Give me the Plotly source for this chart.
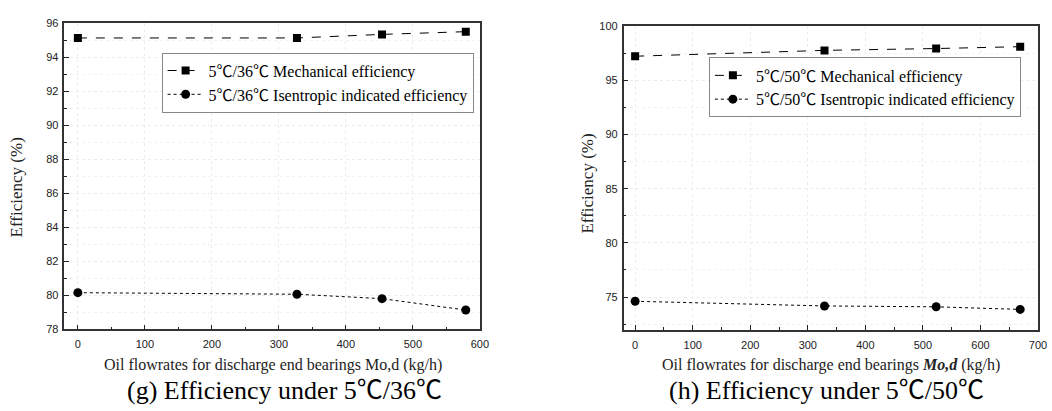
import plotly.graph_objects as go

# Data: panel (g) 5℃/36℃
g_x = [0, 327, 454, 579]
g_mech = [95.12, 95.12, 95.33, 95.49]
g_isen = [80.15, 80.06, 79.8, 79.13]

# Data: panel (h) 5℃/50℃
h_x = [0, 329, 523, 669]
h_mech = [97.22, 97.76, 97.93, 98.1]
h_isen = [74.61, 74.18, 74.1, 73.86]

g_names = ["5℃/36℃ Mechanical efficiency", "5℃/36℃ Isentropic indicated efficiency"]
h_names = ["5℃/50℃ Mechanical efficiency", "5℃/50℃ Isentropic indicated efficiency"]

serif = "Liberation Serif, Times New Roman, Noto Sans CJK SC, serif"
sans = "Liberation Sans, Arial, sans-serif"

W, H = 1052, 411
def px(x):
    return x / W
def py(y):
    return 1 - y / H

fig = go.Figure()

line_c = "black"
fig.add_trace(go.Scatter(x=g_x, y=g_mech, mode="lines+markers", name=g_names[0],
                         line=dict(color=line_c, width=1, dash="dash"),
                         marker=dict(symbol="square", size=8, color=line_c),
                         xaxis="x", yaxis="y", legend="legend"))
fig.add_trace(go.Scatter(x=g_x, y=g_isen, mode="lines+markers", name=g_names[1],
                         line=dict(color=line_c, width=1, dash="dot"),
                         marker=dict(symbol="circle", size=9, color=line_c),
                         xaxis="x", yaxis="y", legend="legend"))
fig.add_trace(go.Scatter(x=h_x, y=h_mech, mode="lines+markers", name=h_names[0],
                         line=dict(color=line_c, width=1, dash="dash"),
                         marker=dict(symbol="square", size=8, color=line_c),
                         xaxis="x2", yaxis="y2", legend="legend2"))
fig.add_trace(go.Scatter(x=h_x, y=h_isen, mode="lines+markers", name=h_names[1],
                         line=dict(color=line_c, width=1, dash="dot"),
                         marker=dict(symbol="circle", size=9, color=line_c),
                         xaxis="x2", yaxis="y2", legend="legend2"))

def xaxis_cfg(domain, rng, anchor):
    return dict(domain=domain, range=rng, anchor=anchor, dtick=100, tick0=0,
                ticks="inside", ticklen=5, tickwidth=1, tickcolor="#222",
                ticklabelstandoff=4,
                minor=dict(dtick=50, ticks="inside", ticklen=3, tickcolor="#222",
                           showgrid=False),
                showline=True, linecolor="#333", linewidth=1.5, mirror=True,
                showgrid=True, gridcolor="#ececec", griddash="dot", gridwidth=1,
                zeroline=False, tickfont=dict(family=sans, size=11, color="#222"))

def yaxis_cfg(domain, rng, anchor, dtick):
    return dict(domain=domain, range=rng, anchor=anchor, dtick=dtick, tick0=0,
                ticks="inside", ticklen=5, tickwidth=1, tickcolor="#222",
                ticklabelstandoff=2,
                minor=dict(dtick=dtick / 2, ticks="inside", ticklen=3, tickcolor="#222",
                           showgrid=True, gridcolor="#f2f2f2", griddash="dot"),
                showline=True, linecolor="#333", linewidth=1.5, mirror=True,
                showgrid=True, gridcolor="#ececec", griddash="dot", gridwidth=1,
                zeroline=False, tickfont=dict(family=sans, size=11, color="#222"))

leg_common = dict(xanchor="left", yanchor="top", bordercolor="#888", borderwidth=1,
                  bgcolor="white", font=dict(family=serif, size=16, color="black"),
                  itemwidth=36, tracegroupgap=0)

fig.update_layout(
    width=W, height=H,
    margin=dict(l=0, r=0, t=0, b=0),
    paper_bgcolor="white", plot_bgcolor="white",
    xaxis=xaxis_cfg([px(65), px(484)], [-20, 600], "y"),
    yaxis=yaxis_cfg([py(333), py(17.5)], [78, 96], "x", 2),
    xaxis2=xaxis_cfg([px(629), px(1047)], [-20, 700], "y2"),
    yaxis2=yaxis_cfg([py(333.3), py(20.7)], [72, 100], "x2", 5),
    legend=dict(x=px(163), y=py(48), **leg_common),
    legend2=dict(x=px(715), y=py(53), **leg_common),
    showlegend=True,
)

def note(text, x, y, size, angle=0, color="#222"):
    return dict(text=text, x=px(x), y=py(y), xref="paper", yref="paper",
                xanchor="center", yanchor="middle", showarrow=False,
                textangle=angle, font=dict(family=serif, size=size, color=color))

ann = [
    note("Oil flowrates for discharge end bearings Mo,d (kg/h)", 275, 370, 16),
    note("Oil flowrates for discharge end bearings <b><i>Mo,d</i></b> (kg/h)", 838, 370, 16),
    note("Efficiency (%)", 17, 187, 17, -90),
    note("Efficiency (%)", 593, 183, 17, -90),
    note("(g) Efficiency under 5℃/36℃", 287, 396, 26, color="black"),
    note("(h) Efficiency under 5℃/50℃", 834, 396, 26, color="black"),
]
fig.update_layout(annotations=ann)

fig.write_html("out.html")
